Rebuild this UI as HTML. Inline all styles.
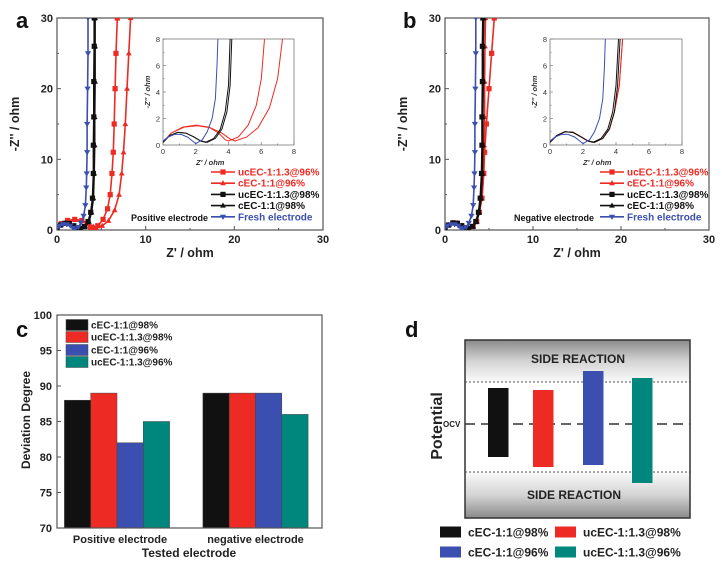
<!DOCTYPE html>
<html><head><meta charset="utf-8"><style>
html,body{margin:0;padding:0;background:#fff;}
svg{display:block;font-family:"Liberation Sans",Arial,sans-serif;}
</style></head><body>
<svg id="fig" width="722" height="569" viewBox="0 0 722 569" xmlns="http://www.w3.org/2000/svg">
<defs>
<linearGradient id="gTop" x1="0" y1="0" x2="0" y2="1"><stop offset="0" stop-color="#8a8a8a"/><stop offset="0.5" stop-color="#d4d4d4"/><stop offset="1" stop-color="#fafafa"/></linearGradient>
<linearGradient id="gBot" x1="0" y1="0" x2="0" y2="1"><stop offset="0" stop-color="#fafafa"/><stop offset="0.5" stop-color="#d4d4d4"/><stop offset="1" stop-color="#8a8a8a"/></linearGradient>
<clipPath id="clipA"><rect x="57" y="18" width="266" height="212"/></clipPath>
<clipPath id="clipAi"><rect x="163" y="39" width="131" height="106"/></clipPath>
<clipPath id="clipB"><rect x="445" y="18" width="264" height="212"/></clipPath>
<clipPath id="clipBi"><rect x="550" y="39" width="132" height="106"/></clipPath>
</defs>
</svg>
<script>
// ---------- Panel a data ----------
const aFreshX=[0,0.3,0.7,1.1,1.5,1.8,2.0,2.4,2.7,3.0,3.2,3.3,3.35,3.4,3.4,3.45,3.5,3.5];
const aFreshY=[0.3,0.6,0.8,0.8,0.6,0.3,0.1,0.4,1.0,2.0,3.5,6,8,11,15,20,25,30];
const aBlkSqX=[0,0.4,0.9,1.4,1.9,2.3,2.6,3.1,3.5,3.8,4.0,4.1,4.1,4.15,4.15,4.2,4.2];
const aBlkSqY=[0.2,0.7,0.95,0.9,0.6,0.3,0.2,0.5,1.2,2.5,4.5,8,12,16,21,26,30];
const aBlkTrX=[0,0.4,0.9,1.4,1.9,2.3,2.7,3.2,3.6,3.9,4.1,4.2,4.25,4.25,4.3,4.3,4.3];
const aBlkTrY=[0.2,0.7,0.95,0.9,0.6,0.3,0.2,0.5,1.2,2.5,4.5,8,12,16,21,26,30];
const aRedSqX=[0,0.5,1.2,2.0,2.8,3.4,3.8,4.0,4.6,5.2,5.7,6.0,6.2,6.35,6.45,6.55,6.65,6.8];
const aRedSqY=[0.2,0.9,1.35,1.5,1.35,0.9,0.4,0.3,0.6,1.5,3,5,8,11,15,20,25,30];
const aRedTrX=[0,0.5,1.3,2.1,2.9,3.6,4.1,4.4,5.1,5.8,6.5,7.0,7.3,7.5,7.7,7.9,8.1,8.3];
const aRedTrY=[0.2,0.9,1.35,1.45,1.3,0.9,0.45,0.3,0.6,1.3,2.8,5,8,11,15,20,25,30];
// ---------- Panel b data ----------
const bFreshX=[0,0.3,0.7,1.1,1.5,1.8,2.0,2.4,2.7,3.0,3.2,3.3,3.35,3.4,3.4,3.45,3.5,3.5];
const bFreshY=[0.3,0.6,0.8,0.8,0.6,0.3,0.1,0.4,1.0,2.0,3.5,6,8,11,15,20,25,30];
const bBlkSqX=[0,0.4,0.9,1.4,1.9,2.3,2.6,3.1,3.5,3.8,4.0,4.15,4.2,4.2,4.25,4.25,4.3];
const bBlkSqY=[0.2,0.7,1.0,0.95,0.6,0.3,0.2,0.5,1.2,2.5,4.5,8,12,16,21,26,30];
const bBlkTrX=[0,0.4,0.9,1.4,1.9,2.3,2.7,3.2,3.6,3.9,4.1,4.25,4.3,4.3,4.35,4.35,4.4];
const bBlkTrY=[0.2,0.7,1.0,0.95,0.6,0.3,0.2,0.5,1.2,2.5,4.5,8,12,16,21,26,30];
const bRedSqX=[0,0.4,0.9,1.4,1.9,2.3,2.7,3.2,3.6,3.9,4.2,4.4,4.5,4.7,5.0,5.3,5.6];
const bRedSqY=[0.2,0.7,1.0,0.95,0.6,0.3,0.2,0.5,1.2,2.5,4.5,8,11,15,20,25,30];
const bRedTrX=[0,0.4,0.9,1.4,1.9,2.3,2.7,3.2,3.6,3.9,4.2,4.4,4.45,4.5,4.5,4.55,4.6];
const bRedTrY=[0.2,0.7,1.0,0.95,0.6,0.3,0.2,0.5,1.2,2.5,4.5,8,12,16,21,26,30];
const eisTicksMain=[0,10,20,30];
const eisTicksInset=[0,2,4,6,8];
const legendLabels=["ucEC-1:1.3@96%","cEC-1:1@96%","ucEC-1:1.3@98%","cEC-1:1@98%","Fresh electrode"];
// ---------- Panel c data ----------
const cGroups=["Positive electrode","negative electrode"];
const cSeriesNames=["cEC-1:1@98%","ucEC-1:1.3@98%","cEC-1:1@96%","ucEC-1:1.3@96%"];
const cPositive=[88,89,82,85];
const cNegative=[89,89,89,86];
const cTicks=[70,75,80,85,90,95,100];
// ---------- Panel d data (potential window, relative units, OCV=0) ----------
const dNames=["cEC-1:1@98%","ucEC-1:1.3@98%","cEC-1:1@96%","ucEC-1:1.3@96%"];
const dUpper=[36,34,53,46];
const dLower=[-33,-43,-41,-59];

const NS="http://www.w3.org/2000/svg";
const svg=document.getElementById('fig');
function el(tag,attrs,parent,text){const e=document.createElementNS(NS,tag);for(const k in attrs)e.setAttribute(k,attrs[k]);if(text!==undefined)e.textContent=text;(parent||svg).appendChild(e);return e;}
const RED="#ee2a24",BLK="#111",BLUE="#3a4fb0",TEAL="#00877d";
function marker(g,type,cx,cy,c,s){
  let m;
  if(type==='sq'){m=el('rect',{x:cx-s,y:cy-s,width:2*s,height:2*s,fill:c},g);}
  else if(type==='tu'){m=el('polygon',{points:`${cx},${cy-s*1.2} ${cx-s*1.1},${cy+s*0.8} ${cx+s*1.1},${cy+s*0.8}`,fill:c},g);}
  else {m=el('polygon',{points:`${cx},${cy+s*1.2} ${cx-s*1.2},${cy-s*0.8} ${cx+s*1.2},${cy-s*0.8}`,fill:c},g);}
  
  
}
function eisPanel(P){
  const g=el('g',{},svg);
  
  
  const sx=v=>P.x0+v*(P.x1-P.x0)/30, sy=v=>P.y1-v*(P.y1-P.y0)/30;
  const ix=v=>P.ix0+v*(P.ix1-P.ix0)/8, iy=v=>P.iy1-v*(P.iy1-P.iy0)/8;
  const fr=el('rect',{x:P.x0,y:P.y0,width:P.x1-P.x0,height:P.y1-P.y0,fill:'none',stroke:'#555','stroke-width':1.2},g);
  
  for(let v=0;v<=30;v+=5){
    const L=v%10===0?4:2;
    el('line',{x1:sx(v),x2:sx(v),y1:P.y1,y2:P.y1-L,stroke:'#555'},g);
    el('line',{x1:P.x0,x2:P.x0+L,y1:sy(v),y2:sy(v),stroke:'#555'},g);
  }
  eisTicksMain.forEach(v=>{
    const t=el('text',{x:sx(v),y:P.y1+13,'text-anchor':'middle','font-size':11,'font-weight':'bold',fill:'#222'},g,String(v));
    
    const u=el('text',{x:P.x0-4,y:sy(v)+4,'text-anchor':'end','font-size':11,'font-weight':'bold',fill:'#222'},g,String(v));
    
  });
  const xt=el('text',{x:(P.x0+P.x1)/2,y:P.y1+27,'text-anchor':'middle','font-size':12.5,'font-weight':'bold',fill:'#222'},g,"Z' / ohm");
  
  const yt=el('text',{x:0,y:0,transform:`translate(${P.x0-38},${(P.y0+P.y1)/2}) rotate(-90)`,'text-anchor':'middle','font-size':12.5,'font-weight':'bold',fill:'#222'},g,"-Z'' / ohm");
  
  const pl=el('text',{x:P.lx,y:P.y0+10,'font-size':22,'font-weight':'bold',fill:'#111'},g,P.letter);
  
  const mg=el('g',{'clip-path':`url(#${P.clip})`},g);
  P.series.forEach(s=>{
    const d=s.xs.map((x,i)=>(i?'L':'M')+sx(x).toFixed(1)+','+sy(s.ys[i]).toFixed(1)).join('');
    const p=el('path',{d:d,fill:'none',stroke:s.c,'stroke-width':1.6},mg);
    
    s.xs.forEach((x,i)=>marker(mg,s.m,sx(x),sy(s.ys[i]),s.c,2.6));
  });
  const ib=el('rect',{x:P.ix0,y:P.iy0,width:P.ix1-P.ix0,height:P.iy1-P.iy0,fill:'#fff',stroke:'#777','stroke-width':0.8},g);
  
  for(let v=0;v<=8;v+=1){
    const L=v%2===0?3:1.5;
    el('line',{x1:ix(v),x2:ix(v),y1:P.iy1,y2:P.iy1-L,stroke:'#777','stroke-width':0.7},g);
    el('line',{x1:P.ix0,x2:P.ix0+L,y1:iy(v),y2:iy(v),stroke:'#777','stroke-width':0.7},g);
  }
  eisTicksInset.forEach(v=>{
    const t=el('text',{x:ix(v),y:P.iy1+9,'text-anchor':'middle','font-size':7.5,fill:'#333'},g,String(v));
    
    const u=el('text',{x:P.ix0-3,y:iy(v)+3,'text-anchor':'end','font-size':7.5,fill:'#333'},g,String(v));
    
  });
  const ixt=el('text',{x:P.ix0+33,y:P.iy1+20,'font-size':7.5,'font-weight':'bold','font-style':'italic',fill:'#333'},g,"Z' / ohm");
  
  const iyt=el('text',{x:0,y:0,transform:`translate(${P.ix0-13},${(P.iy0+P.iy1)/2}) rotate(-90)`,'text-anchor':'middle','font-size':7.5,'font-weight':'bold','font-style':'italic',fill:'#333'},g,"-Z'' / ohm");
  
  const ig=el('g',{'clip-path':`url(#${P.iclip})`},g);
  P.series.forEach(s=>{
    const d=s.xs.map((x,i)=>(i?'L':'M')+ix(x).toFixed(1)+','+iy(s.ys[i]).toFixed(1)).join('');
    const p=el('path',{d:d,fill:'none',stroke:s.c,'stroke-width':1},ig);
    
  });
  legendLabels.forEach((lab,i)=>{
    const s=P.series[i];const y=172+i*11.2;
    const lg=el('g',{},g);
    
    el('line',{x1:P.legX,x2:P.legX+24,y1:y,y2:y,stroke:s.c,'stroke-width':1.6},lg);
    marker(lg,s.m,P.legX+12,y,s.c,2.6);
    el('text',{x:P.legX+27,y:y+3.5,'font-size':10,'font-weight':'bold',fill:s.c},lg,lab);
  });
  const en=el('text',{x:P.noteX,y:221,'font-size':9,'font-weight':'bold',fill:'#111'},g,P.note);
  
}
eisPanel({name:'panel-a-eis',letter:'a',lx:16,x0:57,x1:323,y0:18,y1:230,ix0:163,ix1:294,iy0:39,iy1:145,clip:'clipA',iclip:'clipAi',legX:211,noteX:131,note:'Positive electrode',
 series:[{xs:aRedSqX,ys:aRedSqY,c:RED,m:'sq'},{xs:aRedTrX,ys:aRedTrY,c:RED,m:'tu'},{xs:aBlkSqX,ys:aBlkSqY,c:BLK,m:'sq'},{xs:aBlkTrX,ys:aBlkTrY,c:BLK,m:'tu'},{xs:aFreshX,ys:aFreshY,c:BLUE,m:'td'}]});
eisPanel({name:'panel-b-eis',letter:'b',lx:403,x0:445,x1:709,y0:18,y1:230,ix0:550,ix1:682,iy0:39,iy1:145,clip:'clipB',iclip:'clipBi',legX:600,noteX:514,note:'Negative electrode',
 series:[{xs:bRedSqX,ys:bRedSqY,c:RED,m:'sq'},{xs:bRedTrX,ys:bRedTrY,c:RED,m:'tu'},{xs:bBlkSqX,ys:bBlkSqY,c:BLK,m:'sq'},{xs:bBlkTrX,ys:bBlkTrY,c:BLK,m:'tu'},{xs:bFreshX,ys:bFreshY,c:BLUE,m:'td'}]});

// ---------- Panel c ----------
(function(){
  const g=el('g',{},svg);
  
  const x0=57,x1=322,y0=315,y1=528;
  const sy=v=>y1-(v-70)*(y1-y0)/30;
  const cols=[BLK,RED,BLUE,TEAL];
  const centers=[117,255.5],bw=26.3;
  const vals=[cPositive,cNegative];
  vals.forEach((arr,gi)=>arr.forEach((v,i)=>{
    const bx=centers[gi]+(i-2)*bw;
    const r=el('rect',{x:bx,y:sy(v),width:bw,height:y1-sy(v),fill:cols[i],stroke:'#444','stroke-width':0.5},g);
    
    
  }));
  const fr=el('rect',{x:x0,y:y0,width:x1-x0,height:y1-y0,fill:'none',stroke:'#555','stroke-width':1.2},g);
  
  cTicks.forEach(v=>{
    el('line',{x1:x0,x2:x0+4,y1:sy(v),y2:sy(v),stroke:'#555'},g);
    const t=el('text',{x:x0-5,y:sy(v)+4,'text-anchor':'end','font-size':11,'font-weight':'bold',fill:'#222'},g,String(v));
    
  });
  cGroups.forEach((lab,i)=>{
    const t=el('text',{x:centers[i]+(i?0:3),y:543,'text-anchor':'middle','font-size':11,'font-weight':'bold',fill:'#222'},g,lab);
    
  });
  const xt=el('text',{x:189,y:557,'text-anchor':'middle','font-size':12,'font-weight':'bold',fill:'#222'},g,'Tested electrode');
  
  const yt=el('text',{x:0,y:0,transform:'translate(30,420) rotate(-90)','text-anchor':'middle','font-size':12,'font-weight':'bold',fill:'#222'},g,'Deviation Degree');
  
  const pl=el('text',{x:16,y:337,'font-size':22,'font-weight':'bold',fill:'#111'},g,'c');
  
  const lys=[325,337,350,362];
  cSeriesNames.forEach((n,i)=>{
    const lg=el('g',{},g);
    
    el('rect',{x:66,y:lys[i]-5.5,width:22,height:11,fill:cols[i],stroke:'#444','stroke-width':0.5},lg);
    el('text',{x:91,y:lys[i]+3.5,'font-size':10,'font-weight':'bold',fill:'#222'},lg,n);
  });
})();

// ---------- Panel d ----------
(function(){
  const g=el('g',{},svg);
  
  const x0=465,x1=690,y0=340,y1=518,ocv=424;
  const unit=(ocv-382)/42;
  const sy=v=>ocv-v*unit;
  const top=el('rect',{x:x0,y:y0,width:x1-x0,height:382-y0,fill:'url(#gTop)'},g);
  
  const bot=el('rect',{x:x0,y:472,width:x1-x0,height:y1-472,fill:'url(#gBot)'},g);
  
  el('line',{x1:x0,x2:x1,y1:382,y2:382,stroke:'#555','stroke-dasharray':'2,2'},g);
  el('line',{x1:x0,x2:x1,y1:472,y2:472,stroke:'#555','stroke-dasharray':'2,2'},g);
  const oc=el('line',{x1:x0,x2:x1,y1:ocv,y2:ocv,stroke:'#333','stroke-width':1.5,'stroke-dasharray':'10,6'},g);
  
  const cols=[BLK,RED,BLUE,TEAL];
  const bx=[488,533,583,632];
  dNames.forEach((n,i)=>{
    const r=el('rect',{x:bx[i],y:sy(dUpper[i]),width:20.5,height:sy(dLower[i])-sy(dUpper[i]),fill:cols[i]},g);
    
  });
  const fr=el('rect',{x:x0,y:y0,width:x1-x0,height:y1-y0,fill:'none',stroke:'#333','stroke-width':1.5},g);
  
  const t1=el('text',{x:578,y:363,'text-anchor':'middle','font-size':12,'font-weight':'bold',fill:'#222'},g,'SIDE REACTION');
  
  const t2=el('text',{x:574,y:499,'text-anchor':'middle','font-size':12,'font-weight':'bold',fill:'#222'},g,'SIDE REACTION');
  
  const o=el('text',{x:443,y:427,'font-size':8,'font-weight':'bold',fill:'#222'},g,'OCV');
  
  const yt=el('text',{x:0,y:0,transform:'translate(442,426) rotate(-90)','text-anchor':'middle','font-size':16,'font-weight':'bold',fill:'#222'},g,'Potential');
  
  const pl=el('text',{x:405,y:337,'font-size':22,'font-weight':'bold',fill:'#111'},g,'d');
  
  const pos=[[440,532],[555,532],[440,552],[555,552]];
  dNames.forEach((n,i)=>{
    const lg=el('g',{},g);
    
    el('rect',{x:pos[i][0],y:pos[i][1]-5.5,width:21,height:11,fill:cols[i]},lg);
    el('text',{x:pos[i][0]+28,y:pos[i][1]+4.5,'font-size':12,'font-weight':'bold',fill:'#222'},lg,n);
  });
})();
</script>
</body></html>
